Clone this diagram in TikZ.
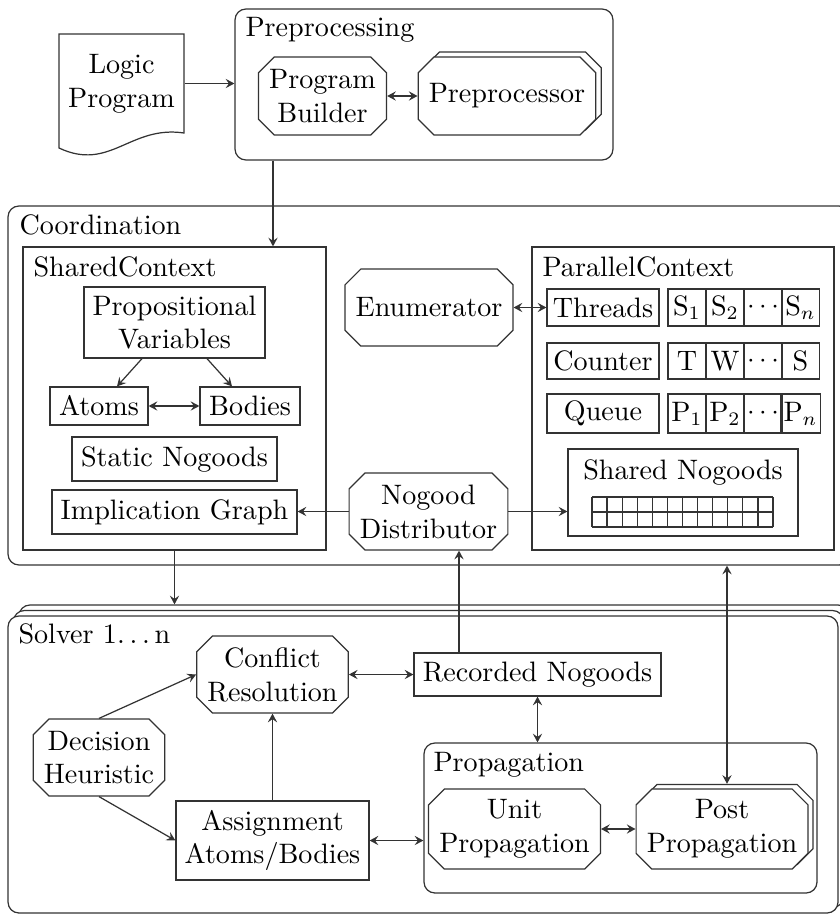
\documentclass[tikz,border=0pt]{standalone}
\usetikzlibrary{shapes.misc,arrows.meta,calc}
\def\PX{0.3663pt}
\tikzset{
  >={Stealth[length=3.2pt,width=3.4pt,inset=1.2pt]},
  ln/.style={line width=0.45pt, draw=black!80},
  sz/.style 2 args={minimum width=#1*\PX, minimum height=#2*\PX},
  box/.style={ln, rectangle, inner sep=1pt, align=center},
  oct/.style={ln, chamfered rectangle, chamfered rectangle xsep=2.9pt, chamfered rectangle ysep=2.9pt, inner sep=1pt, align=center, fill=white},
  cont/.style={ln, rectangle, rounded corners=4pt, inner sep=0pt},
  ttl/.style={anchor=base west, inner sep=0pt},
  conn/.style={line width=0.45pt, draw=black!80},
}
\begin{document}
\begin{tikzpicture}[x=0.3663pt, y=-0.3663pt, every node/.append style={font=\fontsize{10.3pt}{12.4pt}\selectfont}]
\useasboundingbox (0,0) rectangle (840,914);
\clip (0,0) rectangle (840,914);

% containers
\node[cont, sz={842}{359}] (coord) at (429,385.5) {};
\node[ttl] (coordt) at (19,234) {Coordination};
\node[cont, sz={378}{151}] (pre) at (424,84.5) {};
\node[ttl] (pret) at (245,36) {Preprocessing};

% logic program
\draw[ln, fill=white] (59,34) -- (184,34) -- (184,133) .. controls (130,125) and (110,172) .. (59,148) -- cycle;
\node[inner sep=0pt, align=center, sz={125}{99}] (lp) at (121.5,83.5) {Logic\\Program};

% preprocessing internals
\node[oct, sz={127}{78}] (pb) at (322.5,96) {Program\\Builder};
\node[oct, sz={174}{78}] (pprs) at (512.5,91) {\phantom{Preprocessor}};
\node[oct, sz={174}{78}] (ppr) at (507,96) {Preprocessor};

% shared context
\node[box, sz={303}{303}] (sc) at (174.5,398.5) {};
\node[ttl] (sct) at (33,276) {SharedContext};
\node[box, sz={181}{71}] (pv) at (174.5,322.5) {Propositional\\Variables};
\node[box, sz={98}{38}] (atoms) at (99,406) {Atoms};
\node[box, sz={100}{38}] (bodies) at (250,406) {Bodies};
\node[box, sz={205}{44}] (sng) at (174.5,459) {Static Nogoods};
\node[box, sz={245}{44}] (ig) at (174.5,512) {Implication Graph};

% middle
\node[oct, sz={166}{77}] (enum) at (429,307.5) {Enumerator};
\node[oct, sz={157}{77}] (nd) at (428.5,511.5) {Nogood\\Distributor};

% parallel context
\node[box, sz={302}{303}] (pc) at (683,398.5) {};
\node[ttl] (pct) at (542,276) {ParallelContext};
\node[box, sz={112}{37}] (threads) at (603,307.5) {Threads};
\node[box, sz={112}{36}] (counter) at (603,361) {Counter};
\node[box, sz={112}{39}] (queue) at (603,413.5) {Queue};
\foreach \n/\x/\t in {1/687/S$_1$, 2/725/S$_2$, 3/763/$\cdots$, 4/800.5/S$_n$}
  \node[box, sz={38}{37}] (th\n) at (\x,307.5) {\t};
\foreach \n/\x/\t in {1/687/T, 2/725/W, 3/763/$\cdots$, 4/800.5/S}
  \node[box, sz={38}{36}] (ct\n) at (\x,361) {\t};
\foreach \n/\x/\t in {1/687/P$_1$, 2/725/P$_2$, 3/763/$\cdots$, 4/800.5/P$_n$}
  \node[box, sz={38}{39}] (qu\n) at (\x,413.5) {\t};
\node[box, sz={230}{87}] (shn) at (683,492.5) {};
\node[anchor=base, inner sep=0pt] (shnt) at (683,479) {Shared Nogoods};
\foreach \i in {0,...,12}
  \draw[ln] ({592+\i*15.083},497) -- ({592+\i*15.083},527);
\foreach \y in {497,512,527}
  \draw[ln] (592,\y) -- (773,\y);

% solver
\node[cont, fill=white, sz={830}{297}] (solv2) at (434,753.5) {};
\node[cont, fill=white, sz={830}{297}] (solv1) at (428.5,759) {};
\node[cont, fill=white, sz={830}{297}] (solver) at (423,764.5) {};
\node[ttl] (solvt) at (18,643) {Solver 1.\,.\,.\,n};
\node[oct, sz={149}{77}] (cr) at (272.5,674.5) {Conflict\\Resolution};
\node[box, sz={247}{43}] (rn) at (537.5,674.5) {Recorded Nogoods};
\node[oct, sz={130}{77}] (dh) at (99,757.5) {Decision\\Heuristic};
\node[box, sz={193}{79}] (asg) at (272.5,840.5) {Assignment\\Atoms/Bodies};
\node[cont, sz={393}{150}] (prop) at (620.5,818) {};
\node[ttl] (propt) at (433,771) {Propagation};
\node[oct, sz={169}{76}] (up) at (514.5,829) {Unit\\Propagation};
\node[oct, sz={170}{76}] (pps) at (727,824.5) {\phantom{Post}\\\phantom{Propagation}};
\node[oct, sz={170}{76}] (pp) at (722,829) {Post\\Propagation};

% connectors
\coordinate (xa) at (273,0);
\coordinate (xb) at (459,0);
\draw[conn,->] (lp.east) -- (lp.east -| pre.west);
\draw[conn,<->] (pb.east) -- (ppr.west);
\draw[conn,->] (pre.south -| xa) -- (sc.north -| xa);
\draw[conn,->] ([xshift=-32.5*\PX]pv.south) -- ([xshift=18*\PX]atoms.north);
\draw[conn,->] ([xshift=32.5*\PX]pv.south) -- ([xshift=-18*\PX]bodies.north);
\draw[conn,<->] (atoms.east) -- (bodies.west);
\draw[conn,<->] (enum.east) -- (enum.east -| threads.west);
\draw[conn,->] (nd.west) -- (nd.west -| ig.east);
\draw[conn,->] (nd.east) -- (nd.east -| shn.west);
\draw[conn,->] (sc.south) -- (sc.south |- solv2.north);
\draw[conn,->] (rn.north -| xb) -- (nd.south -| xb);
\draw[conn,<->] (pps.north) -- (pps.north |- coord.south);
\draw[conn,<->] (cr.east) -- (cr.east -| rn.west);
\draw[conn,<->] (rn.south) -- (rn.south |- prop.north);
\draw[conn,->] (dh.north) -- (cr.west);
\draw[conn,->] (dh.south) -- (asg.west);
\draw[conn,->] (asg.north) -- (cr.south);
\draw[conn,<->] (asg.east) -- (asg.east -| prop.west);
\draw[conn,<->] (up.east) -- (pp.west);
\end{tikzpicture}
\end{document}
